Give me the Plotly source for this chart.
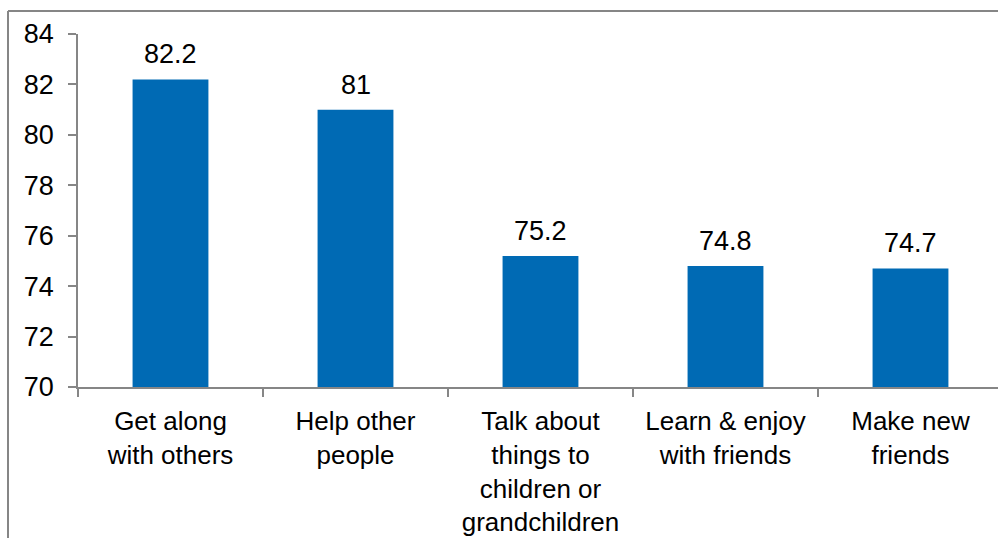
import plotly.graph_objects as go

# Share of respondents (%) by activity
categories = [
    "Get along<br>with others",
    "Help other<br>people",
    "Talk about<br>things to<br>children or<br>grandchildren",
    "Learn & enjoy<br>with friends",
    "Make new<br>friends",
]
values = [82.2, 81, 75.2, 74.8, 74.7]
value_labels = ["82.2", "81", "75.2", "74.8", "74.7"]
y_ticks = [70, 72, 74, 76, 78, 80, 82, 84]

W, H = 998, 538
ML, MR, MT, MB = 78, 0, 34, 151
plot_w = W - ML - MR
plot_h = H - MT - MB

BAR = "#006AB4"
AXIS = "#868686"
FONT = "Liberation Sans, Arial, sans-serif"
FS = 27
FS_CAT = 26

fig = go.Figure(
    go.Bar(
        x=categories,
        y=values,
        base=0,
        marker=dict(color=BAR, line=dict(width=0)),
        width=0.41,
        hoverinfo="skip",
    )
)

# value labels above each bar
for c, v, t in zip(categories, values, value_labels):
    fig.add_annotation(
        x=c, y=v, text=t, showarrow=False, xanchor="center", yanchor="bottom",
        yshift=8, font=dict(family=FONT, size=FS, color="black"),
    )

# chart frame (left and top edges are visible)
x_left = (8 - ML) / plot_w
y_top = (H - MB - 11) / plot_h
y_bot = (H - MB - H - 5) / plot_h
x_right = (W + 5 - ML) / plot_w
fig.add_shape(type="line", xref="paper", yref="paper", x0=x_left, x1=x_left,
              y0=y_bot, y1=y_top, line=dict(color=AXIS, width=2))
fig.add_shape(type="line", xref="paper", yref="paper", x0=x_left, x1=x_right,
              y0=y_top, y1=y_top, line=dict(color=AXIS, width=2))

fig.update_layout(
    width=W, height=H,
    margin=dict(l=ML, r=MR, t=MT, b=MB, pad=0),
    paper_bgcolor="white", plot_bgcolor="white",
    showlegend=False,
    font=dict(family=FONT, size=FS, color="black"),
    xaxis=dict(
        type="category",
        range=[-0.5, 4.473],
        automargin=False,
        showline=True, linecolor=AXIS, linewidth=1.5,
        ticks="outside", ticklen=8, tickcolor=AXIS, tickwidth=1.5,
        tickson="boundaries",
        ticklabelstandoff=10,
        showgrid=False, zeroline=False,
        tickangle=0,
        tickfont=dict(family=FONT, size=FS_CAT, color="black"),
    ),
    yaxis=dict(
        range=[70, 84],
        tickvals=y_ticks,
        automargin=False,
        showline=True, linecolor=AXIS, linewidth=1.5,
        ticks="outside", ticklen=8, tickcolor=AXIS, tickwidth=1.5,
        showgrid=False, zeroline=False,
        ticklabelstandoff=9,
        tickfont=dict(family=FONT, size=FS, color="black"),
    ),
)

fig.write_html("out.html")
